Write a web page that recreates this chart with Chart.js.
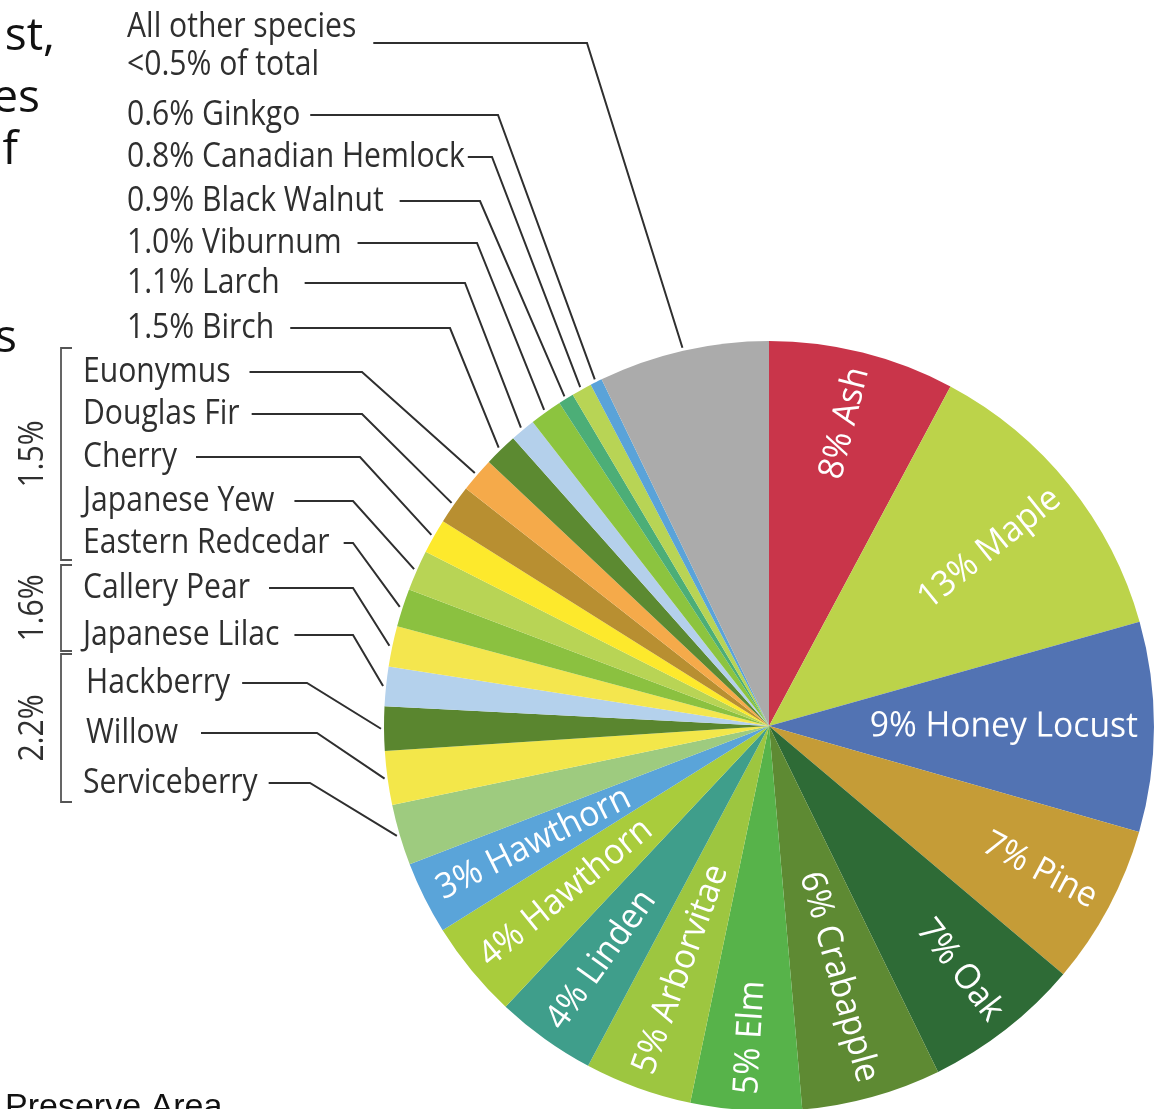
<!DOCTYPE html>
<html>
<head>
<meta charset="utf-8">
<style>
html,body{margin:0;padding:0;background:#fff;overflow:hidden;width:1161px;height:1109px}
#wrap{position:relative;width:1161px;height:1200px}
canvas{display:block}
</style>
<script src="https://cdn.jsdelivr.net/npm/chart.js@4.4.1/dist/chart.umd.min.js"></script>
</head>
<body>
<div id="wrap"><canvas id="c" width="1161" height="1200" style="width:1161px;height:1200px"></canvas></div>
<script>
// ---- data ----
const categories = ['Ash','Maple','Honey Locust','Pine','Oak','Crabapple','Elm','Arborvitae','Linden','Hawthorn','Hawthorn',
  'Serviceberry','Willow','Hackberry','Japanese Lilac','Callery Pear','Eastern Redcedar','Japanese Yew','Cherry','Douglas Fir','Euonymus',
  'Birch','Larch','Viburnum','Black Walnut','Canadian Hemlock','Ginkgo','All other species'];
// slice shares (%) as measured from the slice angles in the picture
const shares = [7.8,12.8,8.8,6.7,6.6,5.85,4.65,4.5,4.2,4.1,3.05,
  2.55,2.25,1.85,1.65,1.7,1.6,1.7,1.45,1.65,1.45,
  1.4,1.05,1.35,0.65,0.85,0.5,7.15];
const sliceColors = ['#c9354a','#bcd34a','#5273b3','#c59c37','#2e6b36','#5e8a33','#57b34a','#9dc640','#3f9e8b','#a9cc3c','#5aa4d9',
  '#9ecb7f','#f3e74a','#5a862f','#b4d1ec','#f4e64e','#8bc140','#b8d455','#fde92c','#b88f31','#f5aa4a',
  '#5c8a31','#b4d0eb','#8cc43f','#4cae77','#b8d455','#5aa3d9','#ababab'];
// labels printed inside the big slices
const insideLabels = ['8% Ash','13% Maple','9% Honey Locust','7% Pine','7% Oak','6% Crabapple','5% Elm','5% Arborvitae','4% Linden','4% Hawthorn','3% Hawthorn'];
// call-out labels for the remaining slices (same order as the slices)
const calloutLabels = [['Serviceberry'],['Willow'],['Hackberry'],['Japanese Lilac'],['Callery Pear'],['Eastern Redcedar'],['Japanese Yew'],['Cherry'],['Douglas Fir'],['Euonymus'],
  ['1.5% Birch'],['1.1% Larch'],['1.0% Viburnum'],['0.9% Black Walnut'],['0.8% Canadian Hemlock'],['0.6% Ginkgo'],['All other species','<0.5% of total']];
// bracketed group labels
const groupLabels = ['1.5%','1.6%','2.2%'];
// fragments of surrounding page text
const pageFragments = ['st,','es','f','s'];
const footerText = 'Preserve Area';

// ---- layout (positions / styles) ----
const firstCallout = insideLabels.length;
const calloutTextX = [83,86,86,83,83,83,83,83,83,83,127,127,127,127,127,127,127];
const calloutLineY = [783,733,683,635,588,543,501,457,414,372,328,283,243,201,157,115,43];
const calloutGap   = [11,23,12,15,19,14,20,19,12,19,16,25,16,16,3,10,17];
const calloutElbowX= [310,317,307,353,353,353,353,360,362,362,450,465,477,480,492,498,587];
const groupTop = [348,565,654], groupBottom = [560,651,802];
const fragRightX = [55,40,18,17], fragBaseY = [50,112,164,352];

const LABEL_FONT = '35px "Open Sans"';
const XS_LEFT = 0.86;
const XS_IN = 0.96;

const overlay = {
  id: 'overlay',
  afterDatasetsDraw(chart) {
    const ctx = chart.ctx;
    const arcs = chart.getDatasetMeta(0).data;
    ctx.save();
    // inside labels
    insideLabels.forEach((txt, i) => {
      const p = arcs[i].getProps(['x','y','startAngle','endAngle','outerRadius'], true);
      const mid = (p.startAngle + p.endAngle) / 2;
      const flip = Math.cos(mid) < 0;
      const r = p.outerRadius - 16;
      ctx.save();
      ctx.translate(p.x, p.y);
      ctx.rotate(flip ? mid + Math.PI : mid);
      ctx.translate(flip ? -r : r, 0);
      ctx.scale(XS_IN, 1);
      ctx.font = LABEL_FONT;
      ctx.fillStyle = '#ffffff';
      ctx.textAlign = flip ? 'left' : 'right';
      ctx.textBaseline = 'middle';
      ctx.fillText(txt, 0, 0);
      ctx.restore();
    });
    // call-outs
    ctx.font = LABEL_FONT;
    calloutLabels.forEach((lines, k) => {
      const i = firstCallout + k;
      const p = arcs[i].getProps(['x','y','startAngle','endAngle','outerRadius'], true);
      const mid = (p.startAngle + p.endAngle) / 2;
      const ly = calloutLineY[k];
      const tx = calloutTextX[k];
      ctx.fillStyle = '#2f2f2f';
      ctx.textAlign = 'left';
      ctx.textBaseline = 'alphabetic';
      let w = 0;
      if (lines.length === 1) {
        ctx.save(); ctx.translate(tx, ly + 10); ctx.scale(XS_LEFT, 1); ctx.fillText(lines[0], 0, 0); ctx.restore();
        w = ctx.measureText(lines[0]).width * XS_LEFT;
      } else {
        ctx.save(); ctx.translate(tx, ly - 6); ctx.scale(XS_LEFT, 1); ctx.fillText(lines[0], 0, 0); ctx.restore();
        ctx.save(); ctx.translate(tx, ly + 32); ctx.scale(XS_LEFT, 1); ctx.fillText(lines[1], 0, 0); ctx.restore();
        w = ctx.measureText(lines[0]).width * XS_LEFT;
      }
      const sx = tx + w + calloutGap[k];
      const ex = p.x + (p.outerRadius + 3) * Math.cos(mid);
      const ey = p.y + (p.outerRadius + 3) * Math.sin(mid);
      ctx.beginPath();
      ctx.moveTo(sx, ly);
      ctx.lineTo(calloutElbowX[k], ly);
      ctx.lineTo(ex, ey);
      ctx.strokeStyle = '#2f2f2f';
      ctx.lineWidth = 2;
      ctx.stroke();
    });
    // brackets with group labels
    groupLabels.forEach((g, j) => {
      ctx.beginPath();
      ctx.moveTo(72, groupTop[j]); ctx.lineTo(61, groupTop[j]);
      ctx.lineTo(61, groupBottom[j]); ctx.lineTo(72, groupBottom[j]);
      ctx.strokeStyle = '#555555'; ctx.lineWidth = 1.8; ctx.stroke();
      ctx.save();
      ctx.translate(33, (groupTop[j] + groupBottom[j]) / 2);
      ctx.rotate(-Math.PI / 2);
      ctx.scale(XS_LEFT, 1);
      ctx.fillStyle = '#2f2f2f';
      ctx.textAlign = 'center'; ctx.textBaseline = 'middle';
      ctx.fillText(g, 0, 0);
      ctx.restore();
    });
    // page text fragments
    ctx.fillStyle = '#111111';
    ctx.font = '46px "Open Sans"';
    ctx.textAlign = 'right'; ctx.textBaseline = 'alphabetic';
    pageFragments.forEach((t, j) => ctx.fillText(t, fragRightX[j], fragBaseY[j]));
    ctx.font = '34px "Liberation Sans"';
    ctx.textAlign = 'left';
    ctx.fillText(footerText, 5, 1117);
    ctx.restore();
  }
};

new Chart(document.getElementById('c'), {
  type: 'pie',
  data: {
    labels: categories,
    datasets: [{ data: shares, backgroundColor: sliceColors, borderWidth: 0 }]
  },
  options: {
    responsive: false,
    animation: false,
    layout: { padding: { left: 384, right: 7, top: 341, bottom: 89 } },
    plugins: { legend: { display: false }, tooltip: { enabled: false } }
  },
  plugins: [overlay]
});
</script>
</body>
</html>
